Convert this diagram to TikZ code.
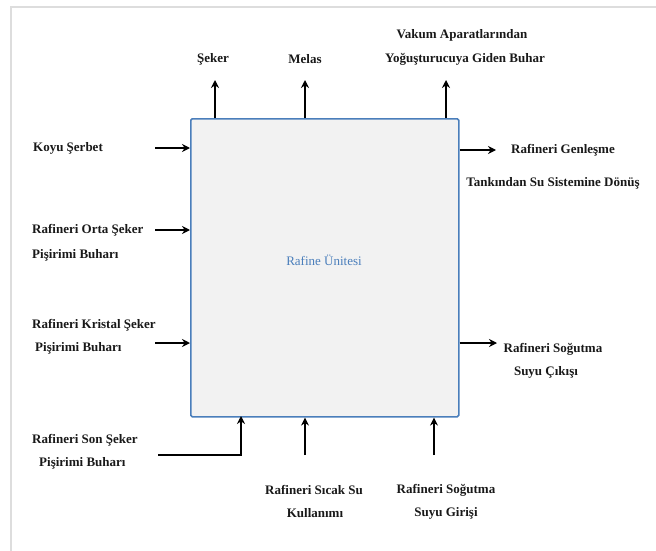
\documentclass[tikz,border=0pt]{standalone}
\usepackage{fontspec}
\setmainfont{Liberation Serif}
\usetikzlibrary{arrows.meta}
\definecolor{boxblue}{HTML}{4A7EBB}
\definecolor{boxfill}{HTML}{F2F2F2}
\definecolor{framegray}{HTML}{DDDDDD}
\begin{document}
\begin{tikzpicture}[x=1pt,y=-1pt,
  lbl/.style={font=\fontsize{13}{15}\selectfont\bfseries, inner sep=0pt, text=black!90},
  flow/.style={line width=2.1pt, -{Stealth[length=8pt,width=8pt]}}]
\useasboundingbox (0,0) rectangle (656,551);
\fill[white] (0,0) rectangle (656,551);
% outer page frame
\draw[framegray, line width=1.2pt] (11,551) -- (11,7) -- (656,7);

% process unit
\node[draw=boxblue, fill=boxfill, line width=1.6pt, rounded corners=1.5pt,
      minimum width=268pt, minimum height=298pt, anchor=north west,
      inner sep=0pt] (unit) at (190,118) {};
\node[text=boxblue, font=\fontsize{13}{15}\selectfont] (unitlbl) at (324,260) {Rafine Ünitesi};

% outputs on top
\coordinate (t1) at (215,80);
\coordinate (t2) at (305,80);
\coordinate (t3) at (446,80);
\draw[flow] (unit.north west -| t1) -- (t1);
\draw[flow] (unit.north west -| t2) -- (t2);
\draw[flow] (unit.north west -| t3) -- (t3);
\node[lbl] (seker) at (213,59) {Şeker};
\node[lbl] (melas) at (305,59) {Melas};
\node[lbl] (vakum1) at (462,35) {Vakum Aparatlarından};
\node[lbl] (vakum2) at (465,59) {Yoğuşturucuya Giden Buhar};

% inputs on the left
\node[lbl] (koyu) at (68,148) {Koyu Şerbet};
\node[lbl, anchor=west] (orta1) at (32,230) {Rafineri Orta Şeker};
\node[lbl, anchor=west] (orta2) at (32,255) {Pişirimi Buharı};
\node[lbl, anchor=west] (krist1) at (32,325) {Rafineri Kristal Şeker};
\node[lbl, anchor=west] (krist2) at (35,348) {Pişirimi Buharı};
\node[lbl, anchor=west] (son1) at (32,440) {Rafineri Son Şeker};
\node[lbl, anchor=west] (son2) at (39,463) {Pişirimi Buharı};
\coordinate (l1) at (155,148);
\coordinate (l2) at (155,230);
\coordinate (l3) at (155,343);
\coordinate (l4) at (158,455);
\draw[flow] (l1) -- (l1 -| unit.west);
\draw[flow] (l2) -- (l2 -| unit.west);
\draw[flow] (l3) -- (l3 -| unit.west);
\draw[flow] (l4) -- (241,455) -- (241,416);

% inputs at the bottom
\coordinate (b1) at (305,455);
\coordinate (b2) at (434,455);
\draw[flow] (b1) -- (b1 |- unit.south);
\draw[flow] (b2) -- (b2 |- unit.south);
\node[lbl] (sicak1) at (314,490) {Rafineri Sıcak Su};
\node[lbl] (sicak2) at (315,513) {Kullanımı};
\node[lbl] (sogg1) at (446,490) {Rafineri Soğutma};
\node[lbl] (sogg2) at (446,513) {Suyu Girişi};

% outputs on the right
\coordinate (r1) at (496,150);
\coordinate (r2) at (497,343);
\draw[flow] (r1 -| unit.east) -- (r1);
\draw[flow] (r2 -| unit.east) -- (r2);
\node[lbl] (gen1) at (563,150) {Rafineri Genleşme};
\node[lbl] (gen2) at (553,183) {Tankından Su Sistemine Dönüş};
\node[lbl] (sogc1) at (553,349) {Rafineri Soğutma};
\node[lbl] (sogc2) at (546,372) {Suyu Çıkışı};
\end{tikzpicture}
\end{document}
